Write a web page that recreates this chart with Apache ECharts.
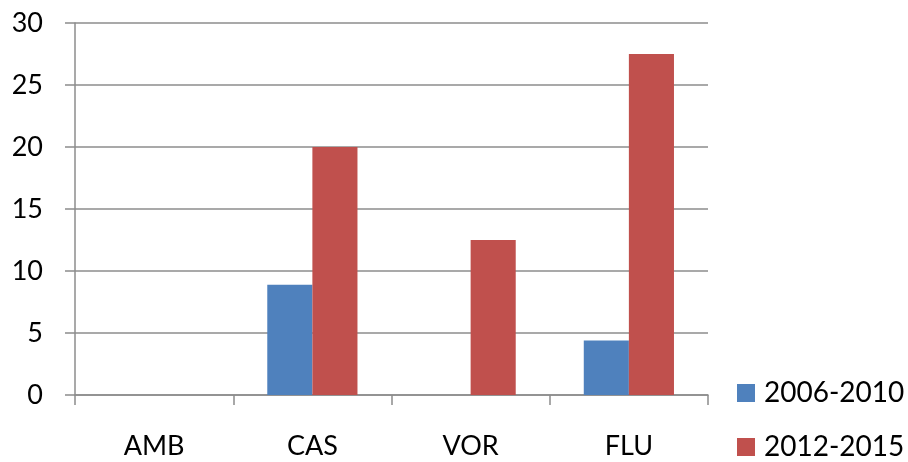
<!DOCTYPE html>
<html>
<head>
<meta charset="utf-8">
<script src="https://cdn.jsdelivr.net/npm/echarts@6/dist/echarts.min.js"></script>
<style>
  html, body { margin: 0; padding: 0; background: #fff; }
  #chart { width: 908px; height: 462px; }
</style>
</head>
<body>
<div id="chart"></div>
<script>
// Categories and the two periods' values
const categories = ['AMB', 'CAS', 'VOR', 'FLU'];
const period1Name = '2006-2010';
const period2Name = '2012-2015';
const period1Values = [0, 8.9, 0, 4.4];
const period2Values = [0, 20, 12.5, 27.5];

const font = 'Lato, "Open Sans", sans-serif';
const axisGray = '#8c8c8c';

const chart = echarts.init(document.getElementById('chart'), null, { renderer: 'canvas' });
chart.setOption({
  animation: false,
  backgroundColor: '#fff',
  grid: { left: 75, right: 200, top: 23, bottom: 67, containLabel: false },
  legend: {
    orient: 'vertical',
    left: 737,
    top: 379,
    padding: 0,
    itemWidth: 18,
    itemHeight: 18,
    itemGap: 26,
    icon: 'rect',
    textStyle: { fontFamily: font, fontSize: 28, lineHeight: 28, color: '#000', padding: [0, 0, 0, 4] },
    data: [period1Name, period2Name]
  },
  xAxis: {
    type: 'category',
    data: categories,
    axisLine: { lineStyle: { color: axisGray, width: 1.5 } },
    axisTick: { show: true, length: 10, alignWithLabel: false, lineStyle: { color: axisGray, width: 1.5 } },
    axisLabel: { fontFamily: font, fontSize: 27, color: '#000', margin: 38 },
    splitLine: { show: false }
  },
  yAxis: {
    type: 'value',
    min: 0,
    max: 30,
    interval: 5,
    axisLine: { show: true, lineStyle: { color: axisGray, width: 1.5 } },
    axisTick: { show: true, length: 10, lineStyle: { color: axisGray, width: 1.5 } },
    axisLabel: { fontFamily: font, fontSize: 27, color: '#000', margin: 32 },
    splitLine: { show: true, lineStyle: { color: axisGray, width: 1.5 } }
  },
  series: [
    {
      name: period1Name,
      type: 'bar',
      data: period1Values,
      barWidth: '28.5%',
      barGap: '0%',
      itemStyle: { color: '#4F81BD' }
    },
    {
      name: period2Name,
      type: 'bar',
      data: period2Values,
      barWidth: '28.5%',
      barGap: '0%',
      itemStyle: { color: '#C0504D' }
    }
  ]
});
</script>
</body>
</html>
